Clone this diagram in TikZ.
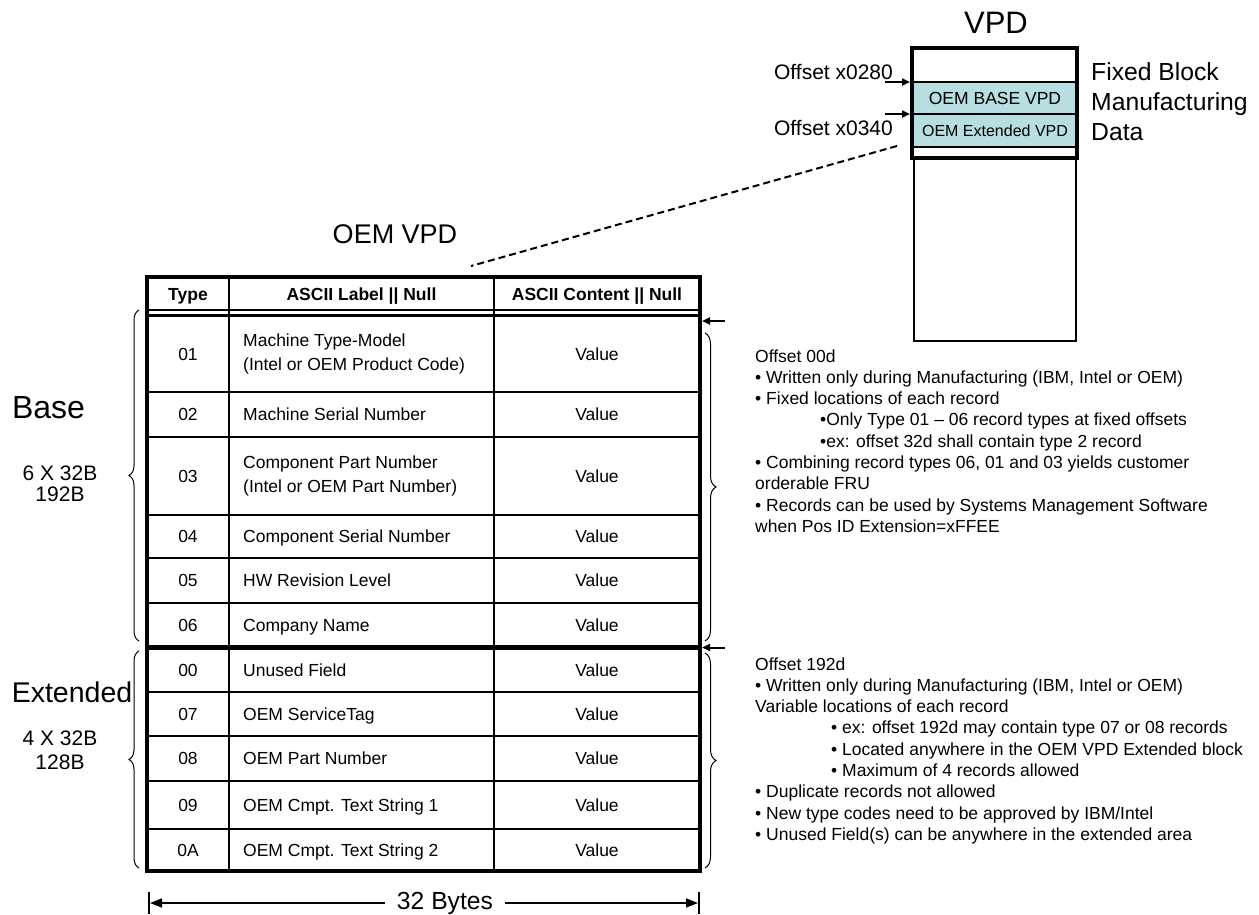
\documentclass[tikz,border=0pt]{standalone}
\usepackage{fontspec}
\setmainfont{Liberation Sans}
\usetikzlibrary{arrows.meta,decorations.pathreplacing}
\definecolor{vpdfill}{RGB}{183,222,224}
\begin{document}
\begin{tikzpicture}[x=1pt,y=-1pt,
  cell/.style={inner sep=0pt,text height=12.6pt,text depth=0pt,font=\fontsize{17.5}{24}\selectfont},
  celll/.style={cell,anchor=west},
  cellm/.style={inner sep=0pt,anchor=west,align=left,font=\fontsize{17.5}{24}\selectfont},
  hdr/.style={inner sep=0pt,text height=12.6pt,text depth=0pt,font=\bfseries\fontsize{17.5}{21}\selectfont},
  rt/.style={inner sep=0pt,anchor=base west,font=\fontsize{17.5}{21}\selectfont},
  thinln/.style={line width=1.3pt},
  outer/.style={line width=3.5pt},
  sep/.style={line width=4.5pt},
  arr/.style={line width=2pt,-{Triangle[length=8pt,width=7pt]}},
  dimarr/.style={line width=1.5pt,-{Triangle[length=12pt,width=9pt]}},
  brc/.style={line width=1pt,decorate,decoration={brace,amplitude=#1}},
]
\useasboundingbox (0,0) rectangle (1259,914);

% ---------------- VPD block ----------------
\node[inner sep=0pt,font=\fontsize{31}{36}\selectfont] (vpdtitle) at (996,23) {VPD};
\fill[vpdfill] (914,82) rectangle (1075,147);
\draw[thinln] (914,82) -- (1075,82) (914,114) -- (1075,114) (914,147) -- (1075,147);
\draw[line width=1.5pt] (914,158) -- (914,341) -- (1076,341) -- (1076,158);
\draw[line width=4pt] (912,48) rectangle (1077,158);
\node[inner sep=0pt,font=\fontsize{17.5}{21}\selectfont] (oembase) at (995,98) {OEM BASE VPD};
\node[inner sep=0pt,font=\fontsize{16}{20}\selectfont] (oemext) at (995,131) {OEM Extended VPD};
\node[inner sep=0pt,anchor=east,font=\fontsize{21}{25}\selectfont] (off280) at (893,72) {Offset x0280};
\node[inner sep=0pt,anchor=east,font=\fontsize{21}{25}\selectfont] (off340) at (893,128) {Offset x0340};
\coordinate (a280s) at (885,82); \coordinate (a280e) at (910,82);
\coordinate (a340s) at (885,114); \coordinate (a340e) at (910,114);
\draw[arr] (a280s) -- (a280e);
\draw[arr] (a340s) -- (a340e);
\node[inner sep=0pt,anchor=west,align=left,font=\fontsize{24.7}{30}\selectfont] (fixed) at (1091,102) {Fixed Block\\Manufacturing\\Data};

% dashed connector
\coordinate (dashA) at (897,146);
\coordinate (dashB) at (471,266);
\draw[line width=2pt,dash pattern=on 7pt off 4pt] (dashA) -- (dashB);

% ---------------- OEM VPD table ----------------
\node[inner sep=0pt,font=\fontsize{27}{32}\selectfont] (oemvpd) at (395,234) {OEM VPD};

% row lines
\foreach \yy in {392,437,515,558,603,692,736,781,829}
  \draw[thinln] (147,\yy) -- (700,\yy);
% column lines
\draw[thinln] (229,277) -- (229,871);
\draw[thinln] (494,277) -- (494,871);
% header double line
\draw[line width=2.8pt] (147,310) -- (700,310);
\draw[line width=2.8pt] (147,315.5) -- (700,315.5);
% base / extended separator
\draw[sep] (147,647.5) -- (700,647.5);
% outer border
\draw[outer] (147,277) rectangle (700,871);

% header
\node[hdr] (hType) at (188,294) {Type};
\node[hdr] (hLabel) at (361.5,294) {ASCII Label || Null};
\node[hdr] (hCont) at (597,294) {ASCII Content || Null};

% rows: type and value
\foreach \ty/\yc [count=\i] in {01/354,02/414.5,03/476,04/536.5,05/580.5,06/625,
  00/670,07/714,08/758.5,09/805,0A/850}
{
  \node[cell] (t\i) at (188,\yc) {\ty};
  \node[cell] (v\i) at (597,\yc) {Value};
}
% labels
\node[cellm] (l1) at (243,354) {Machine Type-Model\\(Intel or OEM Product Code)};
\node[celll] (l2) at (243,414.5) {Machine Serial Number};
\node[cellm] (l3) at (243,476) {Component Part Number\\(Intel or OEM Part Number)};
\node[celll] (l4) at (243,536.5) {Component Serial Number};
\node[celll] (l5) at (243,580.5) {HW Revision Level};
\node[celll] (l6) at (243,625) {Company Name};
\node[celll] (l7) at (243,670) {Unused Field};
\node[celll] (l8) at (243,714) {OEM ServiceTag};
\node[celll] (l9) at (243,758.5) {OEM Part Number};
\node[celll] (l10) at (243,805) {OEM Cmpt. Text String 1};
\node[celll] (l11) at (243,850) {OEM Cmpt. Text String 2};

% right offset arrows
\coordinate (rb1s) at (725,321); \coordinate (rb1e) at (702,321);
\coordinate (rb2s) at (725,647.5); \coordinate (rb2e) at (702,647.5);
\draw[arr] (rb1s) -- (rb1e);
\draw[arr] (rb2s) -- (rb2e);

% braces
\draw[brc=11pt] (705,333) -- (705,641);
\draw[brc=11pt] (705,653) -- (705,868);
\draw[brc=10pt] (139,641) -- (139,310);
\draw[brc=10pt] (139,868) -- (139,651);

% left labels
\node[inner sep=0pt,font=\fontsize{32}{36}\selectfont] (base) at (48.5,408) {Base};
\node[inner sep=0pt,align=center,font=\fontsize{21}{21}\selectfont] (basesz) at (60,484) {6 X 32B\\192B};
\node[inner sep=0pt,font=\fontsize{28.5}{32}\selectfont] (ext) at (72,692) {Extended};
\node[inner sep=0pt,align=center,font=\fontsize{21}{24}\selectfont] (extsz) at (60,750) {4 X 32B\\128B};

% bottom dimension
\draw[line width=1.5pt] (149,892) -- (149,914);
\draw[line width=1.5pt] (699,892) -- (699,914);
\node[inner sep=0pt,font=\fontsize{24.7}{28}\selectfont] (bytes) at (445,903) {32 Bytes};
\coordinate (dimL) at (150,903); \coordinate (dimR) at (698,903);
\draw[dimarr] (bytes.west) ++(-12,0) -- (dimL);
\draw[dimarr] (bytes.east) ++(12,0) -- (dimR);

% ---------------- right text blocks ----------------
\foreach \t [count=\i] in {
  {Offset 00d},
  {• Written only during Manufacturing (IBM, Intel or OEM)},
  {• Fixed locations of each record},
  {\hspace*{65pt}•Only Type 01 – 06 record types at fixed offsets},
  {\hspace*{65pt}•ex: offset 32d shall contain type 2 record},
  {• Combining record types 06, 01 and 03 yields customer},
  {orderable FRU},
  {• Records can be used by Systems Management Software},
  {when Pos ID Extension=xFFEE}}
{
  \node[rt] (ra\i) at ({755},{362+21.3*(\i-1)}) {\t};
}
\foreach \t [count=\i] in {
  {Offset 192d},
  {• Written only during Manufacturing (IBM, Intel or OEM)},
  {Variable locations of each record},
  {\hspace*{76pt}• ex: offset 192d may contain type 07 or 08 records},
  {\hspace*{76pt}• Located anywhere in the OEM VPD Extended block},
  {\hspace*{76pt}• Maximum of 4 records allowed},
  {• Duplicate records not allowed},
  {• New type codes need to be approved by IBM/Intel},
  {• Unused Field(s) can be anywhere in the extended area}}
{
  \node[rt] (rb\i) at ({755},{670+21.3*(\i-1)}) {\t};
}
\end{tikzpicture}
\end{document}
